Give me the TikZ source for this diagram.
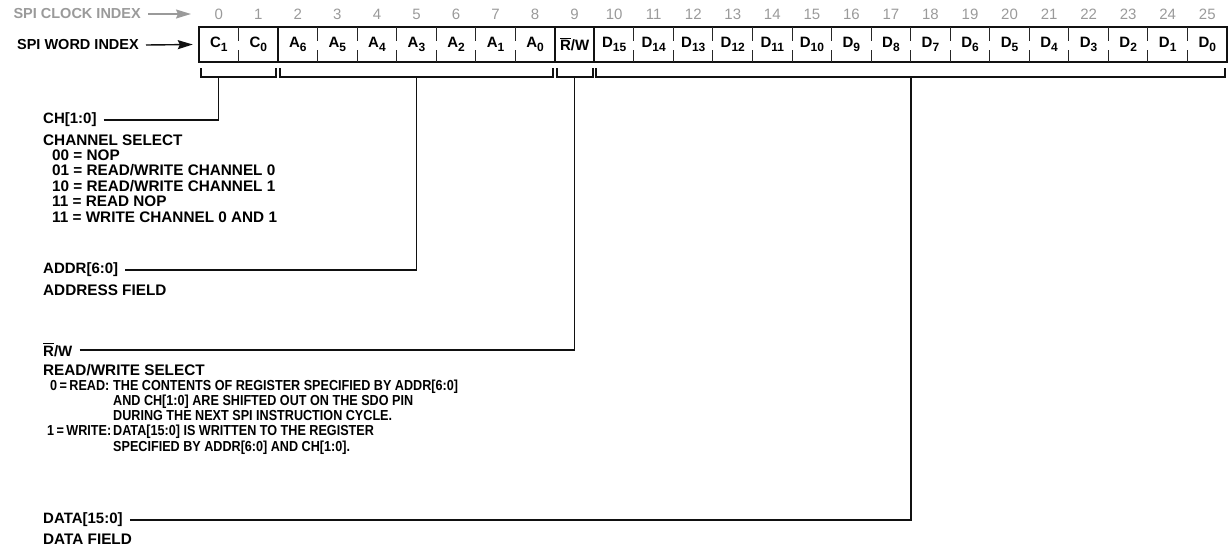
\documentclass[tikz,border=0pt]{standalone}
\usepackage{fontspec}
\setmainfont{Liberation Sans}
\newfontfamily\condfont{Liberation Sans}[FakeStretch=0.87]
\usepackage{tikz}
\usetikzlibrary{arrows.meta,positioning,calc}
\definecolor{clk}{HTML}{9A9A9A}
\definecolor{ink}{HTML}{111111}
\newcommand{\bitn}[2]{#1\raisebox{-0.25em}{\fontsize{12}{12}\selectfont#2}}
\newcommand{\barR}{\setbox0\hbox{R}\rlap{\rule[\dimexpr\ht0+1.6pt\relax]{\wd0}{1.1pt}}R}
\tikzset{
  cell/.style={minimum width=39.54pt, minimum height=35pt, inner sep=0pt,
               font=\bfseries\fontsize{15}{17}\selectfont},
  clkn/.style={font=\fontsize{15}{17}\selectfont, text=clk, inner sep=0pt},
  hd/.style={font=\bfseries\fontsize{14.5}{16}\selectfont, inner sep=0pt, anchor=east},
  reg/.style={line width=1.8pt, draw=ink},
  tk/.style={line width=0.8pt, draw=black!85},
  brk/.style={line width=1.8pt, draw=ink},
  lead/.style={line width=1.4pt, draw=ink},
  ar/.style={-{Stealth[length=15pt,width=9pt,inset=2pt]}, line width=1.4pt},
  fld/.style={font=\bfseries\fontsize{15}{18}\selectfont, inner sep=0pt, anchor=west},
  desc/.style={font=\bfseries\fontsize{15.3}{15.4}\selectfont, inner sep=0pt,
               align=left, anchor=north west},
  rwdesc/.style={desc, font=\bfseries\condfont\fontsize{14.5}{15.2}\selectfont},
}

\begin{document}
\begin{tikzpicture}[x=1pt, y=-1pt]
\useasboundingbox (0,0) rectangle (1229,555);

% ---- register cells ----
\foreach \lbl [count=\i from 0] in {\bitn{C}{1}, \bitn{C}{0},
    \bitn{A}{6}, \bitn{A}{5}, \bitn{A}{4}, \bitn{A}{3}, \bitn{A}{2}, \bitn{A}{1}, \bitn{A}{0},
    \barR/W,
    \bitn{D}{15}, \bitn{D}{14}, \bitn{D}{13}, \bitn{D}{12}, \bitn{D}{11}, \bitn{D}{10},
    \bitn{D}{9}, \bitn{D}{8}, \bitn{D}{7}, \bitn{D}{6}, \bitn{D}{5}, \bitn{D}{4},
    \bitn{D}{3}, \bitn{D}{2}, \bitn{D}{1}, \bitn{D}{0}}
  \node[cell] (b\i) at ({199+39.54*\i+19.77}, 44.5) {\lbl};

% clock index above each cell
\foreach \i in {0,...,25}
  \node[clkn] (k\i) at (b\i.center |- 0,14) {\i};

% ---- frame and dividers ----
\draw[reg] (b0.north west) rectangle (b25.south east);
\foreach \i in {2,9,10}
  \draw[reg] (b\i.north west) -- (b\i.south west);
\foreach \i in {1,3,4,5,6,7,8,11,12,13,14,15,16,17,18,19,20,21,22,23,24,25} {
  \draw[tk] (b\i.north west) -- ++(0,14);
  \draw[tk] (b\i.south west) -- ++(0,-12);
}

% ---- row headers ----
\node[hd, text=clk] (clkhd) at (141,14) {SPI CLOCK INDEX};
\node[hd] (wordhd) at (139,45) {SPI WORD INDEX};
\coordinate (clkend) at (191,14);
\draw[ar, draw=clk, fill=clk] ([xshift=7pt]clkhd.east) -- (clkend);
\draw[ar, draw=ink, fill=ink] ([xshift=7pt]wordhd.east) -- ([xshift=-6pt]b0.west);

% ---- brackets ----
\foreach \a/\b in {0/1, 2/8, 9/9, 10/25}
  \draw[brk] ($(b\a.south west)+(2,6)$) -- ++(0,9) -| ($(b\b.south east)+(-2,6)$);
\coordinate (chb) at ($(b0.south)+(0,15)$);
\coordinate (adb) at ($(b5.south)+(0,15)$);
\coordinate (rwb) at ($(b9.south)+(0,15)$);
\coordinate (dab) at ($(b17.south east)+(0,15)$);

% ---- field labels ----
\node[fld] (chlbl) at (43,120) {CH[1:0]};
\node[fld] (adlbl) at (43,270) {ADDR[6:0]};
\node[fld] (rwlbl) at (43,350) {\barR/W};
\node[fld] (dalbl) at (43,520) {DATA[15:0]};

\draw[lead] ([xshift=7pt]chlbl.east) -| (chb);
\draw[lead] ([xshift=7pt]adlbl.east) -| (adb);
\draw[lead] ([xshift=7pt]rwlbl.east) -| (rwb);
\draw[lead] ([xshift=7pt]dalbl.east) -| (dab);

% ---- descriptions ----
\node[desc, below=7pt of chlbl.south west, anchor=north west] (chdesc) {
  CHANNEL SELECT\\
  \hspace*{9pt}00 = NOP\\
  \hspace*{9pt}01 = READ/WRITE CHANNEL 0\\
  \hspace*{9pt}10 = READ/WRITE CHANNEL 1\\
  \hspace*{9pt}11 = READ NOP\\
  \hspace*{9pt}11 = WRITE CHANNEL 0 AND 1};
\node[desc, below=7pt of adlbl.south west, anchor=north west] (addesc) {ADDRESS FIELD};
\node[desc, below=7pt of rwlbl.south west, anchor=north west] (rwhd) {READ/WRITE SELECT};
\node[rwdesc, below=4pt of rwhd.south west, anchor=north west] (rwdesc) {
  \hspace*{7pt}\makebox[63pt][l]{0\,=\,READ:}THE CONTENTS OF REGISTER SPECIFIED BY ADDR[6:0]\\
  \hspace*{70pt}AND CH[1:0] ARE SHIFTED OUT ON THE SDO PIN\\
  \hspace*{70pt}DURING THE NEXT SPI INSTRUCTION CYCLE.\\
  \hspace*{4pt}\makebox[66pt][l]{1\,=\,WRITE:}DATA[15:0] IS WRITTEN TO THE REGISTER\\
  \hspace*{70pt}SPECIFIED BY ADDR[6:0] AND CH[1:0].};
\node[desc, below=7pt of dalbl.south west, anchor=north west] (dadesc) {DATA FIELD};

\end{tikzpicture}
\end{document}
